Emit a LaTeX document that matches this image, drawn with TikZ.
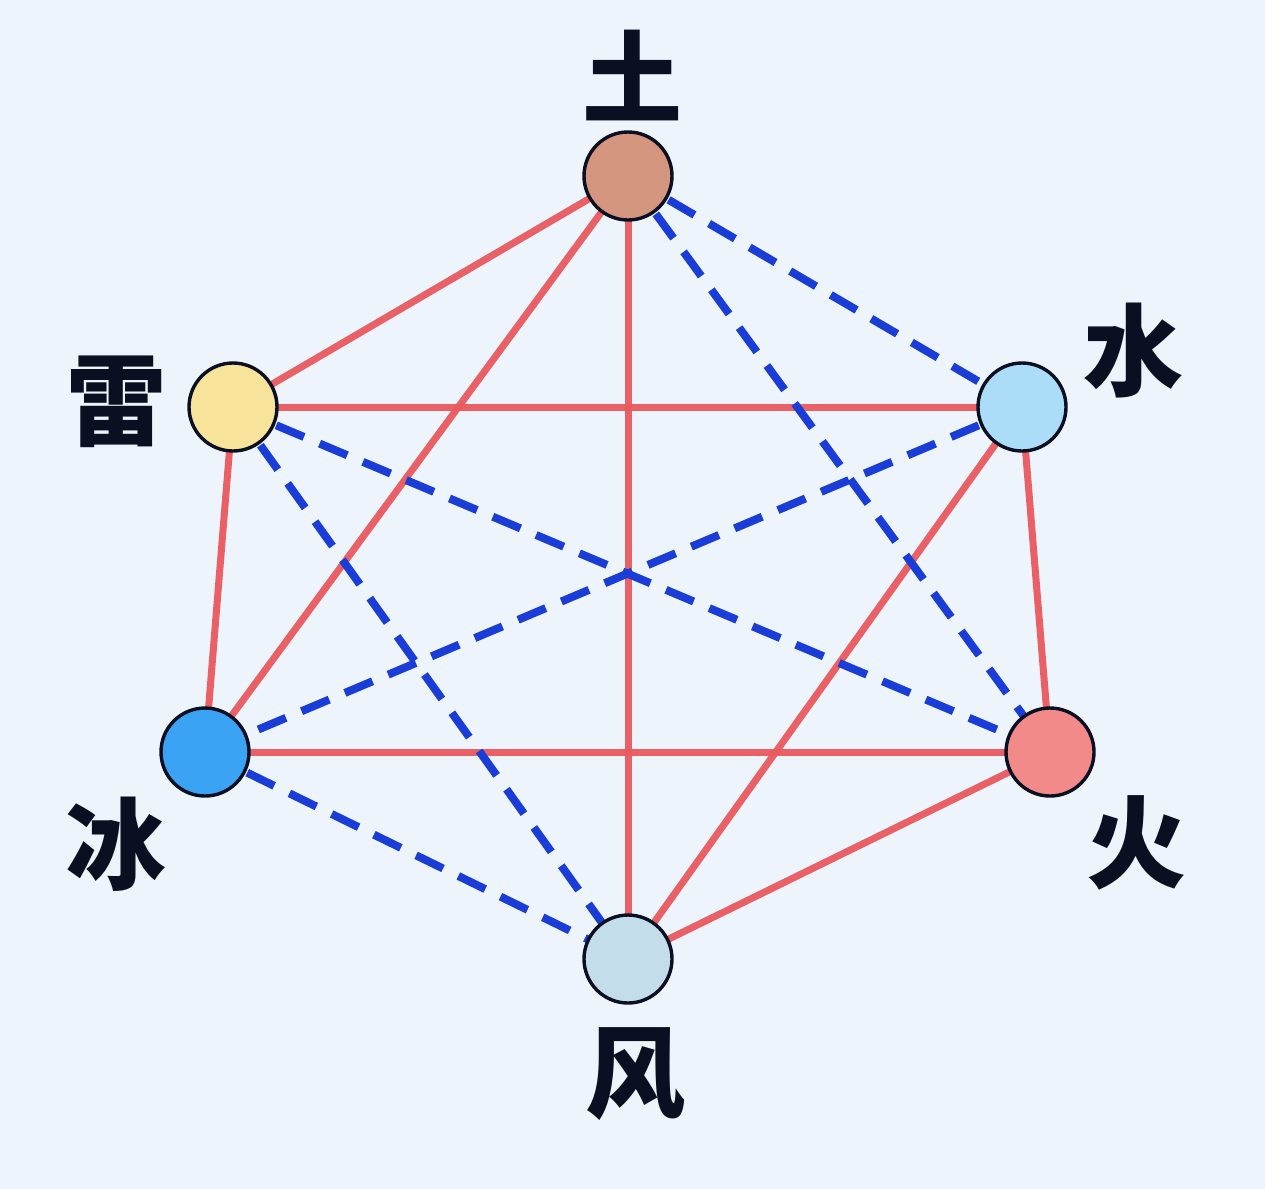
\documentclass[tikz,border=0pt]{standalone}
\usepackage{fontspec}
\newfontfamily\cjk{Noto Sans CJK SC}
\definecolor{bgc}{HTML}{EEF4FC}
\definecolor{redl}{HTML}{E95A5E}
\definecolor{bluel}{HTML}{1A3DD8}
\definecolor{rim}{HTML}{0B0F22}
\definecolor{cTu}{HTML}{D4967F}
\definecolor{cShui}{HTML}{ABDDF8}
\definecolor{cHuo}{HTML}{F28A8A}
\definecolor{cFeng}{HTML}{C3DDEA}
\definecolor{cBing}{HTML}{3BA3F3}
\definecolor{cLei}{HTML}{F8E39A}
\tikzset{
  elem/.style={circle, draw=rim, line width=3.4pt, minimum size=88pt, inner sep=0pt},
  lab/.style={font=\cjk\bfseries\fontsize{100}{100}\selectfont, text=rim, inner sep=0pt},
  solidlink/.style={draw=redl, line width=7pt, opacity=0.95},
  dashlink/.style={draw=bluel, line width=8pt, dash pattern=on 30pt off 17pt}
}
\begin{document}
\begin{tikzpicture}[x=1pt,y=-1pt]
\fill[bgc] (0,0) rectangle (1265,1189);
\useasboundingbox (0,0) rectangle (1265,1189);
\coordinate (pTu) at (628,176);
\coordinate (pShui) at (1022,407);
\coordinate (pHuo) at (1050,752);
\coordinate (pFeng) at (628,959);
\coordinate (pBing) at (205,752);
\coordinate (pLei) at (233,407);
% red solid links
\draw[solidlink] (pTu) -- (pLei);
\draw[solidlink] (pTu) -- (pBing);
\draw[solidlink] (pTu) -- (pFeng);
\draw[solidlink] (pLei) -- (pShui);
\draw[solidlink] (pLei) -- (pBing);
\draw[solidlink] (pShui) -- (pHuo);
\draw[solidlink] (pShui) -- (pFeng);
\draw[solidlink] (pBing) -- (pHuo);
\draw[solidlink] (pHuo) -- (pFeng);
% blue dashed links
\draw[dashlink] (pTu) -- (pShui);
\draw[dashlink] (pTu) -- (pHuo);
\draw[dashlink] (pLei) -- (pHuo);
\draw[dashlink] (pLei) -- (pFeng);
\draw[dashlink] (pShui) -- (pBing);
\draw[dashlink] (pBing) -- (pFeng);
% nodes
\node[elem, fill=cTu] (tu) at (pTu) {};
\node[elem, fill=cShui] (shui) at (pShui) {};
\node[elem, fill=cHuo] (huo) at (pHuo) {};
\node[elem, fill=cFeng] (feng) at (pFeng) {};
\node[elem, fill=cBing] (bing) at (pBing) {};
\node[elem, fill=cLei] (lei) at (pLei) {};
% labels
\node[lab] (ltu) at (632,75) {土};
\node[lab] (lshui) at (1133,351) {水};
\node[lab] (lhuo) at (1136,843) {火};
\node[lab] (lfeng) at (635,1074) {风};
\node[lab] (lbing) at (115,844) {冰};
\node[lab] (llei) at (116,402) {雷};
\end{tikzpicture}
\end{document}
